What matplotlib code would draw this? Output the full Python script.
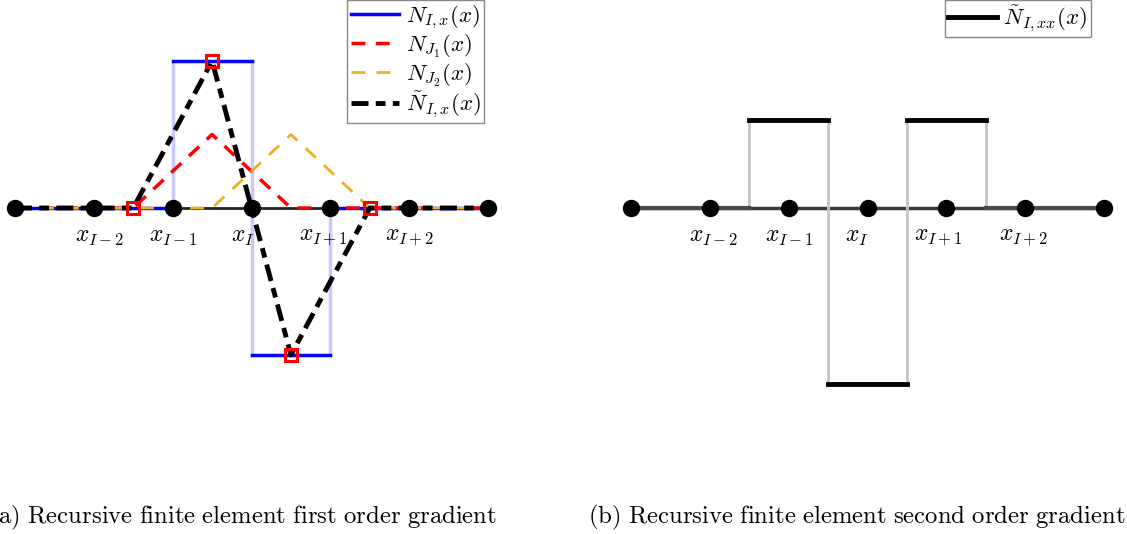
import matplotlib
matplotlib.use("Agg")
import matplotlib.pyplot as plt
import numpy as np

plt.rcParams['mathtext.fontset'] = 'cm'
plt.rcParams['font.family'] = ['DejaVu Serif']

# ---- data ----
nodes = [-3, -2, -1, 0, 1, 2, 3]
node_labels = [r'$x_{I-2}$', r'$x_{I-1}$', r'$x_{I}$', r'$x_{I+1}$', r'$x_{I+2}$']
node_label_idx = [1, 2, 3, 4, 5]

# N_{I,x}: piecewise constant on node intervals
nix_edges = [-3, -2, -1, 0, 1, 2, 3]
nix_vals = [0, 0, 1, -1, 0, 0]

# N_{J1}, N_{J2}: hat functions
nj1_x = [-3, -1.5, -0.5, 0.5, 3]
nj1_y = [0, 0, 0.5, 0, 0]
nj2_x = [-3, -0.5, 0.5, 1.5, 3]
nj2_y = [0, 0, 0.5, 0, 0]

# tilde N_{I,x}
ntx_x = [-3, -1.5, -0.5, 0.5, 1.5, 3]
ntx_y = [0, 0, 1, -1, 0, 0]
sq_x = [-1.5, -0.5, 0.5, 1.5]
sq_y = [0, 1, -1, 0]

# tilde N_{I,xx}
ntxx_edges = [-3, -1.5, -0.5, 0.5, 1.5, 3]
ntxx_vals = [0, 1, -2, 1, 0]

captions = ['(a) Recursive finite element first order gradient',
            '(b) Recursive finite element second order gradient']

# ---- figure ----
W, H = 1127, 534
fig = plt.figure(figsize=(W / 100, H / 100), dpi=100)

def px_axes(x0, x1, y0, y1):
    return fig.add_axes([x0 / W, 1 - y1 / H, (x1 - x0) / W, (y1 - y0) / H])

axL = px_axes(0, 503, 0, 480)
axR = px_axes(616, 1119, 0, 480)
for ax in (axL, axR):
    ax.set_axis_off()
    ax.set_xlim(-3.19, 3.19)
axL.set_ylim(-(480 - 208) / 147, 208 / 147)
axR.set_ylim(-(480 - 208) / 88, 208 / 88)

blue = '#0000ff'
lightblue = '#c8c8ff'
red = '#ff0000'
orange = '#edb120'

leg_kw = dict(fontsize=16.5, handlelength=2.1, handletextpad=0.3, borderpad=0.15,
              labelspacing=0.05, fancybox=False, edgecolor='#888888', framealpha=1,
              borderaxespad=0.0)

# left panel
axL.plot([nodes[0], nodes[-1]], [0, 0], color='#222222', lw=2, zorder=1)
for i in range(1, len(nix_edges) - 1):
    a, b = nix_vals[i - 1], nix_vals[i]
    if a != b:
        axL.plot([nix_edges[i]] * 2, [a, b], color=lightblue, lw=2.5, zorder=2)
bx, by = [], []
for i, v in enumerate(nix_vals):
    bx += [nix_edges[i], nix_edges[i + 1], np.nan]
    by += [v, v, np.nan]
lb, = axL.plot(bx, by, color=blue, lw=2.5, zorder=3, label=r'$N_{I,x}(x)$')
lr, = axL.plot(nj1_x, nj1_y, color=red, lw=2.5, dashes=(4, 3), zorder=4,
               label=r'$N_{J_1}(x)$')
lo, = axL.plot(nj2_x, nj2_y, color=orange, lw=2, dashes=(5, 4), zorder=4,
               label=r'$N_{J_2}(x)$')
lk, = axL.plot(ntx_x, ntx_y, color='black', lw=3.5, dashes=(3.5, 1.5, 2, 1.5), zorder=5,
               label=r'$\tilde{N}_{I,x}(x)$')
axL.plot(sq_x, sq_y, ls='none', marker='s', ms=9, mfc='none', mec=red, mew=2.2, zorder=6)
axL.plot(nodes, [0] * len(nodes), ls='none', marker='o', ms=11.5, color='black', zorder=7)
axL.legend(handles=[lb, lr, lo, lk], loc='upper right', bbox_to_anchor=(484 / 503, 1.0), **leg_kw)

# right panel
axR.plot([nodes[0], nodes[-1]], [0, 0], color='#3a3a3a', lw=2.5, zorder=1)
for i in range(1, len(ntxx_edges) - 1):
    axR.plot([ntxx_edges[i]] * 2, [ntxx_vals[i - 1], ntxx_vals[i]], color='#c4c4c4', lw=2, zorder=2)
hk = None
for i, v in enumerate(ntxx_vals):
    if v == 0:
        axR.plot([ntxx_edges[i], ntxx_edges[i + 1]], [0, 0], color='#4a4a4a', lw=3, zorder=2)
    else:
        h, = axR.plot([ntxx_edges[i], ntxx_edges[i + 1]], [v, v], color='black', lw=3.5, zorder=3,
                      label=r'$\tilde{N}_{I,xx}(x)$')
        hk = h
axR.plot(nodes, [0] * len(nodes), ls='none', marker='o', ms=11.5, color='black', zorder=7)
axR.legend(handles=[hk], loc='upper right', bbox_to_anchor=((1091 - 616) / 503, 1.0), **leg_kw)

# node labels
dxL = [6, 0, -9, -7, 0]
dxR = [4, 0, -11, -8, -2]
for ax, dxs in ((axL, dxL), (axR, dxR)):
    for lab, idx, dx in zip(node_labels, node_label_idx, dxs):
        ax.annotate(lab, (nodes[idx], 0), xytext=(dx * 0.72, -12), textcoords='offset points',
                    ha='center', va='top', fontsize=17)

# captions
def mtext(s):
    return r'$\mathrm{' + s.replace(' ', r'\ ') + '}$'
fig.text(243 / W, 1 - 517 / H, mtext(captions[0]), ha='center', va='center', fontsize=17.8)
fig.text(857 / W, 1 - 517 / H, mtext(captions[1]), ha='center', va='center', fontsize=17.8)

fig.savefig('out.png', dpi=100)
